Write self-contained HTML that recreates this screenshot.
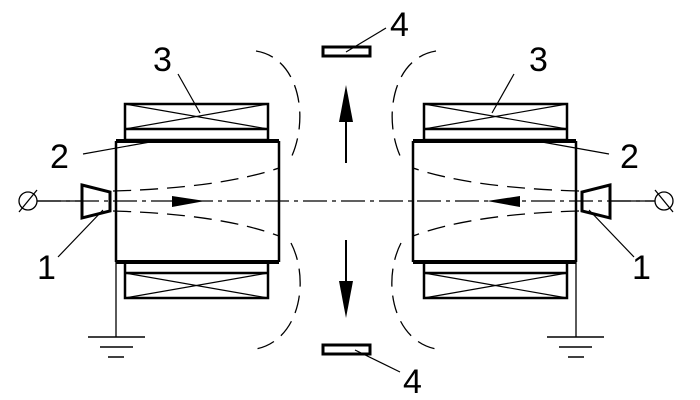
<!DOCTYPE html>
<html><head><meta charset="utf-8"><style>
html,body{margin:0;padding:0;background:#fff;width:700px;height:400px;overflow:hidden}
text{font-family:"Liberation Sans",sans-serif;font-size:34px;fill:#000}
</style></head><body>
<svg width="700" height="400" viewBox="0 0 700 400" xmlns="http://www.w3.org/2000/svg">
<defs>
<g id="half" fill="none" stroke="#000">
  <rect x="125" y="104" width="143" height="36" stroke-width="2.5"/>
  <line x1="125" y1="129" x2="268" y2="129" stroke-width="2.5"/>
  <line x1="125" y1="104" x2="268" y2="129" stroke-width="1.2"/>
  <line x1="125" y1="129" x2="268" y2="104" stroke-width="1.2"/>
  <rect x="125" y="262" width="143" height="36" stroke-width="2.5"/>
  <line x1="125" y1="273" x2="268" y2="273" stroke-width="2.5"/>
  <line x1="125" y1="273" x2="268" y2="298" stroke-width="1.2"/>
  <line x1="125" y1="298" x2="268" y2="273" stroke-width="1.2"/>
  <line x1="116" y1="141" x2="279" y2="141" stroke-width="4"/>
  <line x1="116" y1="262" x2="279" y2="262" stroke-width="4"/>
  <line x1="116" y1="141" x2="116" y2="262" stroke-width="2.5"/>
  <line x1="279" y1="141" x2="279" y2="262" stroke-width="2.5"/>
  <polygon points="82,185 110,192 110,211 82,218" stroke-width="3"/>
  <circle cx="28" cy="201" r="9" stroke-width="1.3"/>
  <line x1="19" y1="212" x2="37" y2="190" stroke-width="1.3"/>
  <line x1="37" y1="201" x2="82" y2="201" stroke-width="1.3"/>
  <line x1="116" y1="262" x2="116" y2="337" stroke-width="1.3"/>
  <line x1="88" y1="337" x2="145" y2="337" stroke-width="1.5"/>
  <line x1="100" y1="347" x2="133" y2="347" stroke-width="1.5"/>
  <line x1="108" y1="357" x2="124" y2="357" stroke-width="1.5"/>
  <path d="M113,191 Q220,188 279,168" stroke-width="1.3" stroke-dasharray="18,9"/>
  <path d="M113,211 Q220,214 279,236" stroke-width="1.3" stroke-dasharray="18,9"/>
  <path d="M256,51 C300,58 310,120 290,160" stroke-width="1.3" stroke-dasharray="18,9"/>
  <path d="M291,243 C310,280 300,340 256,349" stroke-width="1.3" stroke-dasharray="18,9"/>
  <polygon points="172,196 205,201 172,207" fill="#000" stroke="none"/>
</g>
</defs>
<use href="#half"/>
<use href="#half" transform="translate(692,0) scale(-1,1)"/>
<line x1="37" y1="201" x2="655" y2="201" stroke="#000" stroke-width="1.2" stroke-dasharray="24,5,4,5"/>
<line x1="346" y1="163" x2="346" y2="110" stroke="#000" stroke-width="2"/>
<polygon points="346,85 339,122 353,122" fill="#000"/>
<line x1="346" y1="240" x2="346" y2="292" stroke="#000" stroke-width="2"/>
<polygon points="346,318 339,281 353,281" fill="#000"/>
<rect x="323" y="47" width="47" height="9" fill="none" stroke="#000" stroke-width="3"/>
<rect x="323" y="345" width="47" height="9" fill="none" stroke="#000" stroke-width="3"/>
<g stroke="#000" stroke-width="1.2">
<line x1="346" y1="52" x2="386" y2="28"/>
<line x1="355" y1="350" x2="400" y2="372"/>
<line x1="178" y1="74" x2="200" y2="113"/>
<line x1="83" y1="154" x2="150" y2="142"/>
<line x1="58" y1="257" x2="103" y2="210"/>
<line x1="514" y1="74" x2="492" y2="113"/>
<line x1="609" y1="154" x2="542" y2="142"/>
<line x1="634" y1="257" x2="589" y2="210"/>
</g>
<text x="390" y="36">4</text>
<text x="403" y="393">4</text>
<text x="153" y="71">3</text>
<text x="529" y="71">3</text>
<text x="50" y="168">2</text>
<text x="620" y="168">2</text>
<text x="37" y="279">1</text>
<text x="632" y="279">1</text>
</svg>
</body></html>
